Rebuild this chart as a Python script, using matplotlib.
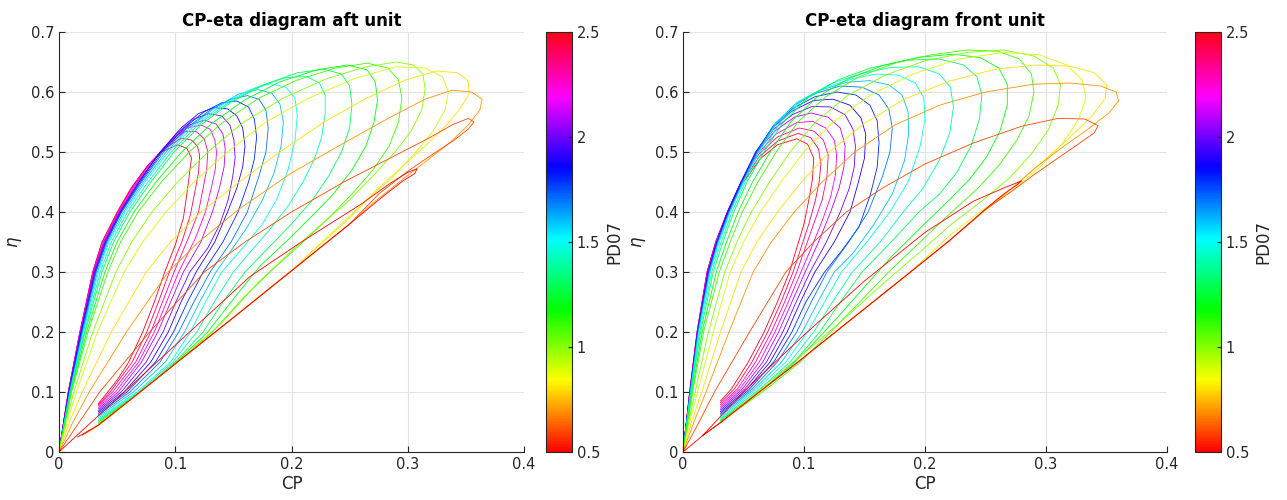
import numpy as np
import matplotlib.pyplot as plt
from matplotlib import cm, colors

# PD07 of each drawn curve
pd_values = [2.5, 2.4, 2.3, 2.2, 2.1, 2.0, 1.9, 1.8, 1.7, 1.6, 1.5,
             1.4, 1.3, 1.2, 1.1, 1.0, 0.9, 0.8, 0.7, 0.6, 0.5]

# aft unit, one CP list and one eta list per PD07 (same order as pd_values)
aft_cp = [
    [0, 0.004, 0.008, 0.013, 0.018, 0.029, 0.037, 0.05, 0.062, 0.075, 0.088, 0.102, 0.110, 0.114, 0.112, 0.110, 0.107, 0.100, 0.091, 0.082, 0.072, 0.060, 0.050, 0.042, 0.034],
    [0, 0.004, 0.008, 0.018, 0.029, 0.037, 0.0505, 0.063, 0.076, 0.09, 0.105, 0.114, 0.119, 0.121, 0.12, 0.117, 0.113, 0.106, 0.095, 0.0855, 0.0755, 0.063, 0.044, 0.034],
    [0, 0.004, 0.008, 0.018, 0.0295, 0.038, 0.051, 0.064, 0.078, 0.093, 0.108, 0.118, 0.125, 0.128, 0.127, 0.124, 0.120, 0.112, 0.099, 0.089, 0.079, 0.066, 0.046, 0.034],
    [0, 0.004, 0.0081, 0.018, 0.0298, 0.0385, 0.0515, 0.0655, 0.08, 0.095, 0.11, 0.122, 0.13, 0.134, 0.1355, 0.1345, 0.131, 0.126, 0.117, 0.103, 0.0925, 0.082, 0.0685, 0.0485, 0.034],
    [0, 0.004, 0.0082, 0.0185, 0.030, 0.039, 0.052, 0.067, 0.083, 0.098, 0.112, 0.125, 0.135, 0.141, 0.143, 0.142, 0.138, 0.132, 0.122, 0.107, 0.096, 0.085, 0.071, 0.051, 0.034],
    [0, 0.0041, 0.0083, 0.0188, 0.0305, 0.0395, 0.0525, 0.068, 0.085, 0.1015, 0.116, 0.129, 0.14, 0.147, 0.1505, 0.1515, 0.1495, 0.1455, 0.1385, 0.128, 0.1125, 0.1005, 0.0895, 0.075, 0.0535, 0.034],
    [0, 0.0042, 0.0085, 0.019, 0.031, 0.040, 0.053, 0.069, 0.087, 0.105, 0.120, 0.133, 0.145, 0.153, 0.158, 0.160, 0.158, 0.153, 0.145, 0.134, 0.118, 0.105, 0.094, 0.079, 0.056, 0.034],
    [0, 0.0043, 0.0088, 0.0195, 0.0315, 0.0405, 0.0535, 0.07, 0.0885, 0.1075, 0.125, 0.14, 0.153, 0.163, 0.168, 0.17, 0.168, 0.163, 0.154, 0.141, 0.124, 0.1105, 0.0985, 0.083, 0.0585, 0.034],
    [0, 0.0045, 0.009, 0.020, 0.032, 0.041, 0.054, 0.071, 0.090, 0.110, 0.130, 0.148, 0.162, 0.172, 0.178, 0.180, 0.178, 0.172, 0.162, 0.148, 0.130, 0.116, 0.103, 0.087, 0.061, 0.034],
    [0, 0.0046, 0.0093, 0.0205, 0.033, 0.042, 0.0555, 0.0725, 0.092, 0.1135, 0.135, 0.155, 0.171, 0.183, 0.19, 0.193, 0.191, 0.185, 0.175, 0.162, 0.146, 0.135, 0.121, 0.108, 0.0915, 0.064, 0.034],
    [0, 0.0047, 0.0095, 0.021, 0.034, 0.043, 0.057, 0.074, 0.094, 0.117, 0.140, 0.163, 0.182, 0.195, 0.203, 0.205, 0.203, 0.197, 0.187, 0.175, 0.158, 0.140, 0.126, 0.113, 0.096, 0.067, 0.034],
    [0, 0.0048, 0.0098, 0.0218, 0.0355, 0.045, 0.059, 0.0765, 0.0965, 0.1195, 0.144, 0.17, 0.195, 0.213, 0.224, 0.229, 0.229, 0.226, 0.22, 0.21, 0.197, 0.181, 0.163, 0.15, 0.1335, 0.1185, 0.098, 0.0685, 0.034],
    [0, 0.005, 0.010, 0.0225, 0.037, 0.047, 0.061, 0.079, 0.099, 0.122, 0.148, 0.176, 0.205, 0.228, 0.243, 0.250, 0.252, 0.250, 0.243, 0.232, 0.218, 0.200, 0.180, 0.160, 0.141, 0.124, 0.100, 0.070, 0.034],
    [0, 0.0052, 0.0104, 0.0238, 0.0395, 0.05, 0.0645, 0.0835, 0.1055, 0.131, 0.16, 0.19, 0.222, 0.248, 0.265, 0.272, 0.274, 0.271, 0.264, 0.252, 0.236, 0.216, 0.195, 0.173, 0.15, 0.128, 0.1, 0.07, 0.034],
    [0, 0.0055, 0.0108, 0.025, 0.042, 0.053, 0.068, 0.088, 0.112, 0.140, 0.172, 0.205, 0.238, 0.265, 0.283, 0.292, 0.295, 0.292, 0.284, 0.270, 0.252, 0.232, 0.210, 0.187, 0.160, 0.132, 0.100, 0.070, 0.034],
    [0, 0.006, 0.0128, 0.029, 0.049, 0.0625, 0.08, 0.102, 0.128, 0.159, 0.193, 0.23, 0.264, 0.29, 0.305, 0.313, 0.315, 0.312, 0.303, 0.289, 0.27, 0.25, 0.226, 0.2, 0.17, 0.14, 0.1, 0.07, 0.034],
    [0, 0.007, 0.015, 0.033, 0.056, 0.072, 0.092, 0.116, 0.145, 0.178, 0.215, 0.255, 0.290, 0.315, 0.330, 0.335, 0.332, 0.322, 0.307, 0.288, 0.265, 0.240, 0.200, 0.150, 0.100, 0.070, 0.034],
    [0, 0.009, 0.02, 0.045, 0.075, 0.096, 0.122, 0.155, 0.19, 0.228, 0.265, 0.298, 0.325, 0.343, 0.352, 0.353, 0.345, 0.332, 0.315, 0.295, 0.272, 0.25, 0.2, 0.15, 0.1, 0.06, 0.034, 0.025],
    [0, 0.012, 0.026, 0.058, 0.094, 0.120, 0.155, 0.200, 0.245, 0.285, 0.315, 0.338, 0.355, 0.364, 0.362, 0.352, 0.336, 0.318, 0.298, 0.270, 0.250, 0.200, 0.150, 0.100, 0.060, 0.034, 0.022],
    [0, 0.014, 0.035, 0.078, 0.125, 0.16, 0.2, 0.245, 0.285, 0.318, 0.338, 0.352, 0.357, 0.352, 0.34, 0.322, 0.3, 0.275, 0.25, 0.2, 0.15, 0.1, 0.06, 0.034, 0.02],
    [0, 0.015, 0.050, 0.100, 0.164, 0.210, 0.259, 0.285, 0.300, 0.308, 0.306, 0.296, 0.280, 0.250, 0.200, 0.150, 0.100, 0.060, 0.034, 0.016],
]
aft_eta = [
    [0, 0.05, 0.10, 0.15, 0.20, 0.30, 0.35, 0.40, 0.44, 0.474, 0.500, 0.512, 0.506, 0.490, 0.460, 0.430, 0.390, 0.345, 0.300, 0.250, 0.200, 0.150, 0.120, 0.100, 0.081],
    [0, 0.05, 0.1, 0.2, 0.3, 0.35, 0.4, 0.442, 0.477, 0.505, 0.523, 0.52, 0.51, 0.495, 0.465, 0.435, 0.395, 0.352, 0.3, 0.25, 0.2, 0.15, 0.1, 0.079],
    [0, 0.05, 0.10, 0.20, 0.30, 0.35, 0.40, 0.443, 0.48, 0.51, 0.534, 0.534, 0.522, 0.500, 0.470, 0.440, 0.400, 0.360, 0.300, 0.250, 0.200, 0.150, 0.100, 0.077],
    [0, 0.05, 0.1, 0.2, 0.3, 0.35, 0.4, 0.445, 0.485, 0.516, 0.54, 0.545, 0.538, 0.52, 0.5, 0.472, 0.44, 0.4, 0.355, 0.3, 0.25, 0.2, 0.15, 0.1, 0.0745],
    [0, 0.05, 0.10, 0.20, 0.30, 0.35, 0.40, 0.447, 0.49, 0.522, 0.545, 0.553, 0.547, 0.530, 0.505, 0.475, 0.440, 0.400, 0.350, 0.300, 0.250, 0.200, 0.150, 0.100, 0.072],
    [0, 0.05, 0.1, 0.2, 0.3, 0.35, 0.4, 0.448, 0.495, 0.531, 0.555, 0.564, 0.56, 0.545, 0.52, 0.49, 0.46, 0.42, 0.38, 0.34, 0.3, 0.25, 0.2, 0.15, 0.1, 0.0695],
    [0, 0.05, 0.10, 0.20, 0.30, 0.35, 0.40, 0.45, 0.50, 0.54, 0.564, 0.574, 0.572, 0.560, 0.540, 0.510, 0.475, 0.440, 0.400, 0.350, 0.300, 0.250, 0.200, 0.150, 0.100, 0.067],
    [0, 0.05, 0.1, 0.2, 0.3, 0.35, 0.4, 0.45, 0.5, 0.54, 0.567, 0.582, 0.585, 0.575, 0.555, 0.525, 0.488, 0.45, 0.4, 0.35, 0.3, 0.25, 0.2, 0.15, 0.1, 0.0645],
    [0, 0.05, 0.10, 0.20, 0.30, 0.35, 0.40, 0.45, 0.50, 0.54, 0.57, 0.588, 0.594, 0.588, 0.570, 0.540, 0.500, 0.460, 0.400, 0.350, 0.300, 0.250, 0.200, 0.150, 0.100, 0.062],
    [0, 0.05, 0.1, 0.2, 0.3, 0.35, 0.4, 0.45, 0.5, 0.543, 0.575, 0.597, 0.604, 0.598, 0.58, 0.55, 0.51, 0.465, 0.42, 0.375, 0.33, 0.3, 0.25, 0.2, 0.15, 0.1, 0.0595],
    [0, 0.05, 0.10, 0.20, 0.30, 0.35, 0.40, 0.45, 0.50, 0.545, 0.578, 0.603, 0.614, 0.608, 0.590, 0.560, 0.520, 0.470, 0.420, 0.380, 0.340, 0.300, 0.250, 0.200, 0.150, 0.100, 0.057],
    [0, 0.05, 0.1, 0.2, 0.3, 0.35, 0.4, 0.45, 0.5, 0.545, 0.58, 0.608, 0.624, 0.626, 0.615, 0.595, 0.565, 0.525, 0.49, 0.45, 0.41, 0.37, 0.33, 0.3, 0.25, 0.2, 0.15, 0.1, 0.0545],
    [0, 0.05, 0.10, 0.20, 0.30, 0.35, 0.40, 0.45, 0.50, 0.545, 0.583, 0.612, 0.632, 0.638, 0.630, 0.610, 0.580, 0.540, 0.500, 0.460, 0.420, 0.380, 0.340, 0.300, 0.250, 0.200, 0.150, 0.100, 0.052],
    [0, 0.05, 0.1, 0.2, 0.3, 0.35, 0.4, 0.45, 0.5, 0.547, 0.587, 0.617, 0.637, 0.645, 0.637, 0.617, 0.587, 0.55, 0.51, 0.47, 0.43, 0.39, 0.35, 0.31, 0.255, 0.2, 0.148, 0.1, 0.0495],
    [0, 0.05, 0.10, 0.20, 0.30, 0.35, 0.40, 0.45, 0.50, 0.548, 0.59, 0.62, 0.64, 0.648, 0.640, 0.620, 0.590, 0.550, 0.510, 0.470, 0.430, 0.390, 0.350, 0.310, 0.260, 0.200, 0.147, 0.100, 0.047],
    [0, 0.05, 0.1, 0.2, 0.3, 0.35, 0.4, 0.45, 0.5, 0.55, 0.59, 0.622, 0.642, 0.65, 0.645, 0.63, 0.605, 0.57, 0.535, 0.5, 0.46, 0.42, 0.38, 0.335, 0.28, 0.215, 0.147, 0.1, 0.045],
    [0, 0.05, 0.10, 0.20, 0.30, 0.35, 0.40, 0.45, 0.50, 0.55, 0.59, 0.623, 0.642, 0.640, 0.625, 0.600, 0.570, 0.535, 0.500, 0.460, 0.420, 0.375, 0.302, 0.224, 0.147, 0.100, 0.044],
    [0, 0.05, 0.1, 0.2, 0.3, 0.35, 0.4, 0.45, 0.5, 0.55, 0.59, 0.62, 0.635, 0.632, 0.618, 0.598, 0.572, 0.542, 0.51, 0.475, 0.435, 0.39, 0.302, 0.224, 0.147, 0.085, 0.045, 0.033],
    [0, 0.05, 0.10, 0.20, 0.30, 0.35, 0.405, 0.465, 0.515, 0.558, 0.588, 0.603, 0.600, 0.588, 0.570, 0.545, 0.515, 0.488, 0.458, 0.415, 0.380, 0.302, 0.224, 0.147, 0.085, 0.045, 0.030],
    [0, 0.04, 0.1, 0.2, 0.3, 0.35, 0.4, 0.45, 0.49, 0.523, 0.545, 0.556, 0.55, 0.538, 0.52, 0.497, 0.468, 0.43, 0.38, 0.302, 0.224, 0.147, 0.085, 0.045, 0.028],
    [0, 0.027, 0.089, 0.178, 0.292, 0.352, 0.412, 0.448, 0.466, 0.472, 0.464, 0.452, 0.428, 0.380, 0.302, 0.224, 0.147, 0.085, 0.045, 0.025],
]

# front unit
front_cp = [
    [0, 0.0028, 0.0055, 0.0116, 0.0198, 0.027, 0.037, 0.050, 0.064, 0.078, 0.094, 0.103, 0.108, 0.107, 0.104, 0.100, 0.094, 0.088, 0.078, 0.067, 0.054, 0.040, 0.031],
    [0, 0.0028, 0.0055, 0.0116, 0.0199, 0.027, 0.0368, 0.049, 0.063, 0.078, 0.095, 0.1055, 0.112, 0.114, 0.1125, 0.1095, 0.104, 0.0975, 0.091, 0.081, 0.070, 0.057, 0.0425, 0.031],
    [0, 0.0028, 0.0056, 0.0117, 0.020, 0.027, 0.0365, 0.048, 0.062, 0.078, 0.096, 0.108, 0.116, 0.120, 0.119, 0.115, 0.108, 0.101, 0.094, 0.084, 0.073, 0.060, 0.045, 0.031],
    [0, 0.0028, 0.0056, 0.0118, 0.0201, 0.0273, 0.0366, 0.048, 0.0615, 0.077, 0.094, 0.107, 0.118, 0.125, 0.127, 0.126, 0.122, 0.115, 0.106, 0.0975, 0.087, 0.076, 0.063, 0.047, 0.031],
    [0, 0.0028, 0.0057, 0.0118, 0.0203, 0.0275, 0.0367, 0.048, 0.061, 0.076, 0.092, 0.106, 0.120, 0.130, 0.134, 0.133, 0.129, 0.122, 0.112, 0.101, 0.090, 0.079, 0.066, 0.049, 0.031],
    [0, 0.0029, 0.0058, 0.0119, 0.0207, 0.0278, 0.0368, 0.048, 0.0605, 0.075, 0.091, 0.107, 0.122, 0.134, 0.1405, 0.1425, 0.1415, 0.1375, 0.130, 0.1185, 0.105, 0.0935, 0.0825, 0.069, 0.051, 0.031],
    [0, 0.0029, 0.0058, 0.012, 0.021, 0.028, 0.037, 0.048, 0.060, 0.074, 0.090, 0.108, 0.124, 0.138, 0.147, 0.151, 0.150, 0.145, 0.138, 0.125, 0.109, 0.097, 0.086, 0.072, 0.053, 0.031],
    [0, 0.003, 0.0059, 0.0122, 0.0212, 0.0283, 0.0375, 0.0485, 0.0605, 0.0745, 0.091, 0.109, 0.127, 0.143, 0.1545, 0.1605, 0.162, 0.1605, 0.155, 0.1455, 0.131, 0.117, 0.1015, 0.09, 0.075, 0.055, 0.031],
    [0, 0.003, 0.006, 0.0123, 0.0215, 0.0285, 0.038, 0.049, 0.061, 0.075, 0.092, 0.110, 0.130, 0.148, 0.162, 0.170, 0.173, 0.171, 0.165, 0.153, 0.137, 0.119, 0.106, 0.094, 0.078, 0.057, 0.031],
    [0, 0.0031, 0.0062, 0.0127, 0.022, 0.0293, 0.0385, 0.0495, 0.062, 0.0765, 0.094, 0.1135, 0.135, 0.154, 0.17, 0.181, 0.186, 0.1865, 0.183, 0.173, 0.158, 0.14, 0.125, 0.1115, 0.0985, 0.0815, 0.059, 0.031],
    [0, 0.0031, 0.0063, 0.013, 0.0225, 0.030, 0.039, 0.050, 0.063, 0.078, 0.096, 0.117, 0.140, 0.160, 0.178, 0.192, 0.199, 0.200, 0.196, 0.186, 0.171, 0.152, 0.131, 0.117, 0.103, 0.085, 0.061, 0.031],
    [0, 0.0032, 0.0066, 0.0137, 0.0237, 0.0315, 0.0405, 0.0515, 0.065, 0.0805, 0.0995, 0.1225, 0.1475, 0.1725, 0.195, 0.212, 0.221, 0.2235, 0.2205, 0.212, 0.1985, 0.182, 0.163, 0.14, 0.1235, 0.108, 0.0885, 0.0635, 0.031],
    [0, 0.0034, 0.0069, 0.0145, 0.025, 0.033, 0.042, 0.053, 0.067, 0.083, 0.103, 0.128, 0.155, 0.185, 0.212, 0.232, 0.243, 0.247, 0.245, 0.238, 0.226, 0.212, 0.195, 0.172, 0.148, 0.130, 0.113, 0.092, 0.066, 0.031],
    [0, 0.0037, 0.0075, 0.0158, 0.0275, 0.036, 0.0455, 0.0575, 0.072, 0.089, 0.1105, 0.1365, 0.165, 0.195, 0.224, 0.246, 0.261, 0.268, 0.268, 0.262, 0.251, 0.237, 0.22, 0.197, 0.172, 0.15, 0.128, 0.105, 0.082, 0.031],
    [0, 0.004, 0.008, 0.017, 0.030, 0.039, 0.049, 0.062, 0.077, 0.095, 0.118, 0.145, 0.175, 0.205, 0.235, 0.260, 0.278, 0.288, 0.290, 0.286, 0.276, 0.262, 0.244, 0.222, 0.196, 0.170, 0.146, 0.122, 0.097, 0.069, 0.031],
    [0, 0.0047, 0.01, 0.021, 0.0345, 0.0445, 0.0565, 0.0715, 0.0885, 0.1095, 0.136, 0.167, 0.2, 0.235, 0.265, 0.29, 0.306, 0.312, 0.31, 0.302, 0.288, 0.27, 0.248, 0.222, 0.194, 0.165, 0.135, 0.106, 0.079, 0.031],
    [0, 0.0055, 0.012, 0.025, 0.039, 0.050, 0.064, 0.081, 0.100, 0.124, 0.155, 0.190, 0.228, 0.265, 0.295, 0.317, 0.330, 0.333, 0.327, 0.314, 0.295, 0.272, 0.245, 0.220, 0.188, 0.157, 0.126, 0.095, 0.070, 0.031],
    [0, 0.007, 0.0155, 0.031, 0.048, 0.061, 0.078, 0.098, 0.121, 0.15, 0.183, 0.22, 0.258, 0.292, 0.32, 0.34, 0.35, 0.349, 0.338, 0.32, 0.298, 0.272, 0.245, 0.22, 0.188, 0.157, 0.126, 0.095, 0.063, 0.031],
    [0, 0.009, 0.019, 0.038, 0.058, 0.073, 0.092, 0.115, 0.142, 0.175, 0.212, 0.250, 0.290, 0.320, 0.345, 0.358, 0.360, 0.352, 0.336, 0.315, 0.292, 0.272, 0.250, 0.220, 0.188, 0.157, 0.126, 0.095, 0.063, 0.031, 0.016],
    [0, 0.012, 0.026, 0.055, 0.085, 0.108, 0.135, 0.165, 0.2, 0.24, 0.28, 0.31, 0.332, 0.343, 0.34, 0.328, 0.31, 0.29, 0.272, 0.25, 0.22, 0.188, 0.157, 0.126, 0.095, 0.063, 0.031, 0.016],
    [0, 0.016, 0.050, 0.100, 0.150, 0.200, 0.240, 0.265, 0.280, 0.276, 0.265, 0.250, 0.220, 0.188, 0.157, 0.126, 0.095, 0.063, 0.031, 0.016],
]
front_eta = [
    [0, 0.05, 0.10, 0.20, 0.30, 0.35, 0.40, 0.45, 0.489, 0.512, 0.522, 0.513, 0.490, 0.455, 0.420, 0.380, 0.340, 0.300, 0.250, 0.200, 0.150, 0.105, 0.085],
    [0, 0.05, 0.1, 0.2, 0.3, 0.35, 0.4, 0.45, 0.492, 0.518, 0.531, 0.524, 0.505, 0.48, 0.45, 0.42, 0.38, 0.34, 0.3, 0.25, 0.2, 0.15, 0.105, 0.082],
    [0, 0.05, 0.10, 0.20, 0.30, 0.35, 0.40, 0.45, 0.495, 0.525, 0.540, 0.535, 0.520, 0.495, 0.460, 0.420, 0.380, 0.340, 0.300, 0.250, 0.200, 0.150, 0.105, 0.079],
    [0, 0.05, 0.1, 0.2, 0.3, 0.35, 0.4, 0.45, 0.497, 0.53, 0.549, 0.551, 0.54, 0.52, 0.495, 0.462, 0.425, 0.385, 0.34, 0.3, 0.25, 0.2, 0.15, 0.105, 0.076],
    [0, 0.05, 0.10, 0.20, 0.30, 0.35, 0.40, 0.45, 0.50, 0.535, 0.558, 0.565, 0.558, 0.540, 0.510, 0.475, 0.440, 0.400, 0.350, 0.300, 0.250, 0.200, 0.150, 0.105, 0.073],
    [0, 0.05, 0.1, 0.2, 0.3, 0.35, 0.4, 0.45, 0.5, 0.538, 0.563, 0.576, 0.575, 0.562, 0.538, 0.51, 0.475, 0.44, 0.4, 0.35, 0.3, 0.25, 0.2, 0.15, 0.105, 0.07],
    [0, 0.05, 0.10, 0.20, 0.30, 0.35, 0.40, 0.45, 0.50, 0.54, 0.568, 0.586, 0.588, 0.578, 0.557, 0.530, 0.490, 0.450, 0.400, 0.350, 0.300, 0.250, 0.200, 0.150, 0.105, 0.067],
    [0, 0.05, 0.1, 0.2, 0.3, 0.35, 0.4, 0.45, 0.5, 0.543, 0.573, 0.592, 0.6, 0.595, 0.578, 0.552, 0.515, 0.475, 0.43, 0.375, 0.335, 0.3, 0.25, 0.2, 0.15, 0.105, 0.0645],
    [0, 0.05, 0.10, 0.20, 0.30, 0.35, 0.40, 0.45, 0.50, 0.545, 0.578, 0.598, 0.610, 0.608, 0.595, 0.572, 0.540, 0.500, 0.460, 0.400, 0.350, 0.300, 0.250, 0.200, 0.150, 0.105, 0.062],
    [0, 0.05, 0.1, 0.2, 0.3, 0.35, 0.4, 0.45, 0.5, 0.548, 0.582, 0.603, 0.616, 0.619, 0.612, 0.595, 0.567, 0.53, 0.485, 0.43, 0.38, 0.33, 0.3, 0.25, 0.2, 0.15, 0.105, 0.0595],
    [0, 0.05, 0.10, 0.20, 0.30, 0.35, 0.40, 0.45, 0.50, 0.55, 0.585, 0.607, 0.622, 0.630, 0.628, 0.615, 0.590, 0.555, 0.510, 0.450, 0.400, 0.350, 0.300, 0.250, 0.200, 0.150, 0.105, 0.057],
    [0, 0.05, 0.1, 0.2, 0.3, 0.35, 0.4, 0.45, 0.5, 0.55, 0.588, 0.614, 0.631, 0.641, 0.642, 0.63, 0.608, 0.575, 0.532, 0.487, 0.44, 0.4, 0.35, 0.3, 0.25, 0.2, 0.15, 0.105, 0.055],
    [0, 0.05, 0.10, 0.20, 0.30, 0.35, 0.40, 0.45, 0.50, 0.55, 0.59, 0.62, 0.64, 0.653, 0.655, 0.645, 0.625, 0.595, 0.555, 0.510, 0.465, 0.430, 0.400, 0.350, 0.300, 0.250, 0.200, 0.150, 0.105, 0.053],
    [0, 0.05, 0.1, 0.2, 0.3, 0.35, 0.4, 0.45, 0.5, 0.55, 0.591, 0.622, 0.644, 0.658, 0.663, 0.657, 0.64, 0.613, 0.578, 0.535, 0.492, 0.455, 0.42, 0.375, 0.325, 0.275, 0.225, 0.175, 0.13, 0.0515],
    [0, 0.05, 0.10, 0.20, 0.30, 0.35, 0.40, 0.45, 0.50, 0.55, 0.592, 0.625, 0.648, 0.662, 0.670, 0.668, 0.655, 0.630, 0.600, 0.560, 0.520, 0.480, 0.440, 0.400, 0.350, 0.300, 0.250, 0.200, 0.150, 0.105, 0.050],
    [0, 0.05, 0.1, 0.2, 0.3, 0.35, 0.4, 0.45, 0.5, 0.55, 0.594, 0.628, 0.652, 0.666, 0.67, 0.66, 0.64, 0.612, 0.578, 0.537, 0.497, 0.457, 0.42, 0.38, 0.33, 0.28, 0.225, 0.175, 0.13, 0.0495],
    [0, 0.05, 0.10, 0.20, 0.30, 0.35, 0.40, 0.45, 0.50, 0.55, 0.595, 0.63, 0.655, 0.666, 0.662, 0.645, 0.620, 0.590, 0.555, 0.515, 0.475, 0.435, 0.400, 0.360, 0.300, 0.250, 0.200, 0.150, 0.110, 0.049],
    [0, 0.05, 0.1, 0.2, 0.3, 0.35, 0.4, 0.45, 0.5, 0.548, 0.588, 0.618, 0.638, 0.645, 0.643, 0.632, 0.612, 0.59, 0.56, 0.525, 0.485, 0.44, 0.395, 0.352, 0.3, 0.25, 0.2, 0.15, 0.1, 0.049],
    [0, 0.05, 0.10, 0.20, 0.30, 0.35, 0.40, 0.45, 0.50, 0.545, 0.578, 0.60, 0.613, 0.615, 0.610, 0.600, 0.585, 0.565, 0.540, 0.510, 0.475, 0.440, 0.404, 0.352, 0.300, 0.250, 0.200, 0.150, 0.100, 0.049, 0.027],
    [0, 0.045, 0.1, 0.2, 0.3, 0.35, 0.4, 0.44, 0.48, 0.515, 0.543, 0.556, 0.555, 0.544, 0.532, 0.515, 0.49, 0.462, 0.435, 0.404, 0.352, 0.3, 0.25, 0.2, 0.15, 0.1, 0.049, 0.027],
    [0, 0.027, 0.100, 0.195, 0.285, 0.366, 0.418, 0.440, 0.452, 0.445, 0.430, 0.405, 0.352, 0.300, 0.250, 0.200, 0.150, 0.100, 0.049, 0.027],
]

W, H = 1287, 500
fig = plt.figure(figsize=(W / 100, H / 100), dpi=100)
cmap = plt.get_cmap('hsv')
norm = colors.Normalize(vmin=0.5, vmax=2.5)
fmt = plt.FuncFormatter(lambda v, p: '%g' % round(v, 2))


def box(l, t, r, b):
    return [l / W, 1 - b / H, (r - l) / W, (b - t) / H]


def panel(ax_px, cb_px, cps, etas, title):
    ax = fig.add_axes(box(*ax_px))
    for pd, cp, eta in zip(pd_values, cps, etas):
        ax.plot(cp, eta, color=cmap(norm(pd)), lw=0.6)
    ax.set_xlim(0, 0.4)
    ax.set_ylim(0, 0.7)
    ax.set_xticks([0, 0.1, 0.2, 0.3, 0.4])
    ax.set_yticks(np.arange(0, 0.71, 0.1))
    ax.xaxis.set_major_formatter(fmt)
    ax.yaxis.set_major_formatter(fmt)
    ax.grid(True, color='#e3e3e3', lw=0.8)
    ax.set_axisbelow(True)
    for s in ['top', 'right']:
        ax.spines[s].set_visible(False)
    for s in ['left', 'bottom']:
        ax.spines[s].set_color('#262626')
        ax.spines[s].set_linewidth(0.8)
    ax.tick_params(direction='in', length=4, width=0.8, colors='#262626', labelsize=10.5)
    ax.set_xlabel('CP', fontsize=12, color='#262626', labelpad=2)
    ax.set_ylabel(r'$\eta$', fontsize=12, color='#262626', labelpad=5)
    ax.set_title(title, fontsize=12, fontweight='bold', pad=4)

    cax = fig.add_axes(box(*cb_px))
    cb = fig.colorbar(cm.ScalarMappable(norm=norm, cmap=cmap), cax=cax)
    cb.set_ticks([0.5, 1, 1.5, 2, 2.5])
    cb.ax.yaxis.set_major_formatter(fmt)
    cb.ax.tick_params(direction='in', length=3, width=0.8, colors='#262626', labelsize=10.5)
    cb.outline.set_edgecolor('#262626')
    cb.outline.set_linewidth(0.8)
    cb.set_label('PD07', fontsize=12, color='#262626')


panel((59, 32, 524, 452), (546, 32, 572, 452), aft_cp, aft_eta, 'CP-eta diagram aft unit')
panel((683, 32, 1167, 452), (1195, 32, 1221, 452), front_cp, front_eta, 'CP-eta diagram front unit')

plt.savefig('out.png', dpi=100)
